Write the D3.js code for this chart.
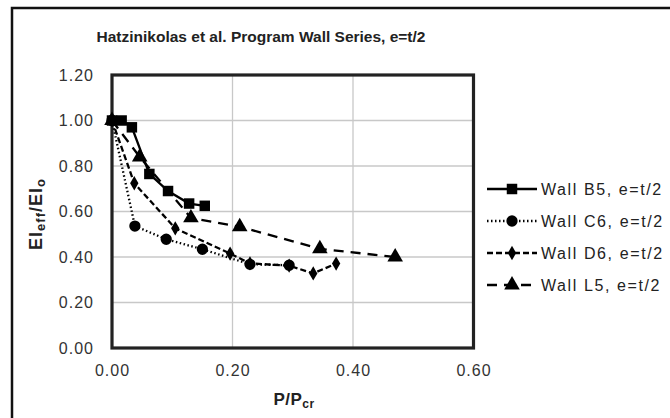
<!DOCTYPE html>
<html><head><meta charset="utf-8">
<script src="https://cdn.jsdelivr.net/npm/d3@7"></script>
<style>body{margin:0;background:#fff}svg{display:block;font-family:Arial,"Liberation Sans",sans-serif}</style>
</head><body><svg id="c" width="670" height="418"></svg>
<script>
const title = "Hatzinikolas  et al. Program Wall Series, e=t/2";
const xTicks = [0, 0.2, 0.4, 0.6];
const yTicks = [0, 0.2, 0.4, 0.6, 0.8, 1.0, 1.2];
const seriesNames = ["Wall B5, e=t/2", "Wall C6, e=t/2", "Wall D6, e=t/2", "Wall L5, e=t/2"];
const b5 = [[0,1.0],[0.016,1.0],[0.033,0.97],[0.062,0.765],[0.093,0.69],[0.128,0.635],[0.154,0.625]];
const c6 = [[0,1.0],[0.038,0.536],[0.090,0.478],[0.150,0.434],[0.229,0.368],[0.294,0.364]];
const d6 = [[0,1.0],[0.037,0.724],[0.105,0.526],[0.196,0.415],[0.229,0.372],[0.294,0.362],[0.334,0.328],[0.372,0.371]];
const l5 = [[0,1.0],[0.046,0.84],[0.131,0.572],[0.212,0.533],[0.345,0.436],[0.470,0.400]];

const styles = [
  {data:b5, dash:null, sym:d3.symbolSquare, size:110},
  {data:c6, dash:"1.5,2.5", sym:d3.symbolCircle, size:100},
  {data:d6, dash:"6,3", sym:d3.symbolDiamond, size:60},
  {data:l5, dash:"10,7", sym:d3.symbolTriangle, size:105}
];

const svg = d3.select("#c");
const x = d3.scaleLinear().domain([0,0.6]).range([112,473.5]);
const y = d3.scaleLinear().domain([0,1.2]).range([348,75]);

// outer border
svg.append("rect").attr("x",12).attr("y",8).attr("width",700).attr("height",460)
  .attr("fill","#fff").attr("stroke","#111").attr("stroke-width",2.5);

// grid
svg.append("g").selectAll("line").data(yTicks.slice(1,-1)).join("line")
  .attr("x1",x(0)).attr("x2",x(0.6)).attr("y1",d=>y(d)).attr("y2",d=>y(d))
  .attr("stroke","#c8c8c8").attr("stroke-width",1.3);
svg.append("g").selectAll("line").data(xTicks.slice(1,-1)).join("line")
  .attr("y1",y(0)).attr("y2",y(1.2)).attr("x1",d=>x(d)).attr("x2",d=>x(d))
  .attr("stroke","#c8c8c8").attr("stroke-width",1.3);

// plot border
svg.append("rect").attr("x",x(0)).attr("y",y(1.2)).attr("width",x(0.6)-x(0)).attr("height",y(0)-y(1.2))
  .attr("fill","none").attr("stroke","#222").attr("stroke-width",3.2);

// axes labels
const xa = svg.append("g").attr("transform",`translate(0,${y(0)})`)
  .call(d3.axisBottom(x).tickValues(xTicks).tickFormat(d3.format(".2f")).tickSize(0).tickPadding(17));
xa.select(".domain").remove();
xa.selectAll("text").attr("font-size",16).attr("letter-spacing",1).attr("fill","#333").attr("font-family","Arial, Liberation Sans");
const ya = svg.append("g").attr("transform",`translate(${x(0)},0)`)
  .call(d3.axisLeft(y).tickValues(yTicks).tickFormat(d3.format(".2f")).tickSize(0).tickPadding(18));
ya.select(".domain").remove();
ya.selectAll("text").attr("font-size",16).attr("letter-spacing",1).attr("fill","#333").attr("font-family","Arial, Liberation Sans");

// title
svg.append("text").attr("x",261).attr("y",42).attr("text-anchor","middle")
  .attr("font-size",15.5).attr("font-weight","bold").attr("fill","#222").text(title);

// axis titles
const xt = svg.append("text").attr("x",294).attr("y",405).attr("text-anchor","middle")
  .attr("font-size",17).attr("font-weight","bold").attr("letter-spacing",0.5).attr("fill","#222");
xt.append("tspan").text("P/P");
xt.append("tspan").attr("font-size",12).attr("dy",3).text("cr");
const yt = svg.append("text").attr("transform","translate(42,214) rotate(-90)").attr("text-anchor","middle")
  .attr("font-size",18).attr("font-weight","bold").attr("letter-spacing",1).attr("fill","#222");
yt.append("tspan").text("EI");
yt.append("tspan").attr("font-size",13).attr("dy",3).text("eff");
yt.append("tspan").attr("dy",-3).text("/EI");
yt.append("tspan").attr("font-size",13).attr("dy",3).text("o");

// series
const line = d3.line().x(d=>x(d[0])).y(d=>y(d[1]));
styles.forEach(s=>{
  svg.append("path").datum(s.data).attr("d",line).attr("fill","none")
    .attr("stroke","#000").attr("stroke-width",2.3)
    .attr("stroke-dasharray",s.dash);
});
styles.forEach(s=>{
  svg.append("g").selectAll("path").data(s.data).join("path")
    .attr("transform",d=>`translate(${x(d[0])},${y(d[1])})`)
    .attr("d",d3.symbol().type(s.sym).size(s.size)).attr("fill","#000");
});

// legend
const ly = [189, 221, 253, 285];
styles.forEach((s,i)=>{
  const g = svg.append("g").attr("transform",`translate(0,${ly[i]})`);
  g.append("line").attr("x1",487).attr("x2",537).attr("y1",0).attr("y2",0)
    .attr("stroke","#000").attr("stroke-width",2.3).attr("stroke-dasharray",s.dash);
  g.append("path").attr("transform","translate(512,0)").attr("d",d3.symbol().type(s.sym).size(s.size)).attr("fill","#000");
  g.append("text").attr("x",541).attr("y",6).attr("font-size",16).attr("letter-spacing",1.6).attr("fill","#222").text(seriesNames[i]);
});
</script></body></html>
